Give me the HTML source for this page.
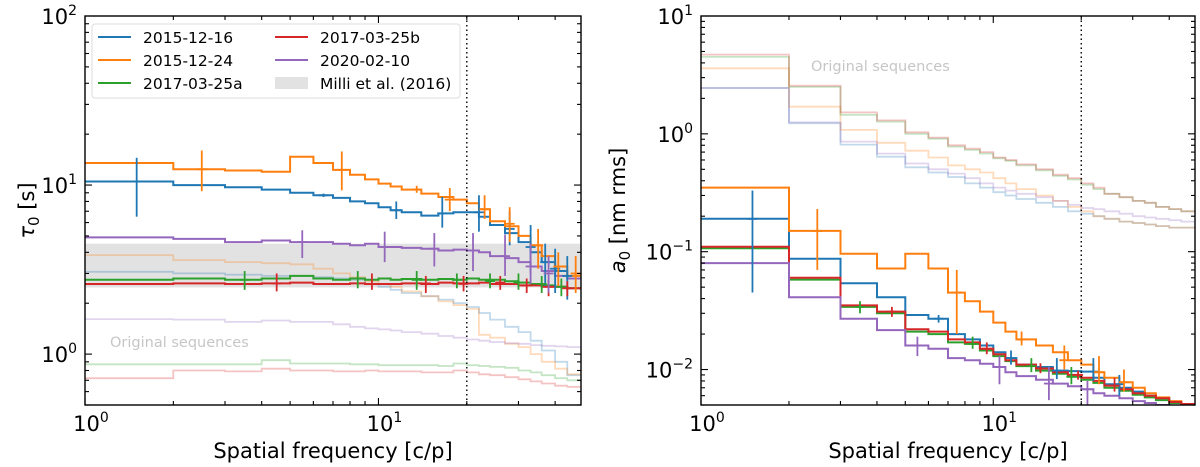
<!DOCTYPE html>
<html><head><meta charset="utf-8">
<style>
html,body{margin:0;padding:0;background:#fff;}
svg{display:block;font-family:"DejaVu Sans","Liberation Sans",sans-serif;}
</style></head>
<body>
<svg id="fig" width="1200" height="467" viewBox="0 0 1200 467" xmlns="http://www.w3.org/2000/svg"></svg>
<script>
// shared bin edges (spatial frequency, c/p)
const edges = [1,2,3,4,5,6,7,8,9,10,11,12,14,16,18,20,22,24,27,30,33,36,40,44,49];
const seriesNames = ["2015-12-16","2015-12-24","2017-03-25a","2017-03-25b","2020-02-10"];
const colors = ["#1f77b4","#ff7f0e","#2ca02c","#d62728","#9467bd"];

// LEFT panel: tau0 [s]
const tauBlue   = [10.5,10.0,9.7,9.4,9.0,8.7,8.4,8.0,7.8,7.4,7.1,6.9,6.6,6.8,6.9,6.9,6.5,5.8,5.2,4.6,4.0,3.5,3.1,2.8];
const tauOrange = [13.5,12.4,12.2,12.0,14.7,13.5,12.3,11.5,10.8,10.2,9.8,9.4,8.9,8.5,8.2,7.8,7.2,6.1,5.7,5.0,4.4,3.8,3.3,2.9];
const tauGreen  = [2.75,2.8,2.75,2.8,2.9,2.8,2.75,2.8,2.75,2.8,2.75,2.78,2.75,2.78,2.75,2.8,2.75,2.75,2.7,2.65,2.6,2.55,2.5,2.45];
const tauRed    = [2.6,2.62,2.6,2.62,2.65,2.6,2.6,2.62,2.6,2.6,2.6,2.62,2.6,2.65,2.62,2.62,2.65,2.6,2.6,2.55,2.55,2.5,2.5,2.45];
const tauPurple = [4.9,4.8,4.6,4.7,4.6,4.6,4.5,4.4,4.5,4.3,4.3,4.25,4.2,4.1,4.15,4.1,4.0,3.8,3.7,3.5,3.3,3.1,2.9,2.8];
const tauOrigBlue   = [3.07,3.0,2.95,2.9,2.9,2.85,2.8,2.75,2.6,2.5,2.4,2.3,2.2,2.1,2.0,1.9,1.75,1.6,1.45,1.35,1.2,1.05,0.9,0.75];
const tauOrigOrange = [3.85,3.6,3.5,3.45,3.4,3.2,3.0,2.85,2.7,2.6,2.5,2.35,2.2,2.05,1.95,1.85,1.3,1.25,1.15,1.1,1.0,0.9,0.82,0.76];
const tauOrigGreen  = [0.87,0.87,0.87,0.92,0.88,0.88,0.88,0.87,0.87,0.86,0.86,0.86,0.86,0.85,0.88,0.86,0.85,0.84,0.83,0.8,0.78,0.75,0.72,0.7];
const tauOrigRed    = [0.72,0.8,0.79,0.82,0.8,0.8,0.79,0.79,0.8,0.79,0.79,0.79,0.78,0.78,0.8,0.78,0.76,0.75,0.73,0.71,0.69,0.67,0.65,0.64];
const tauOrigPurple = [1.61,1.6,1.55,1.58,1.55,1.55,1.5,1.45,1.42,1.4,1.38,1.35,1.32,1.28,1.25,1.22,1.2,1.18,1.16,1.15,1.13,1.12,1.11,1.1];
const milliBand = [2.48,4.5];
// error bars: [x, y, lo, hi]
const tauErrBlue   = [[1.5,10.5,6.5,14.5],[6.5,8.7,8.5,8.9],[11.5,7.1,6.3,8.0],[16.5,6.8,5.6,8.5],[22,6.9,5.3,8.7],[28,5.5,4.4,7.0],[33,4.3,3.0,5.8],[37,3.5,2.5,4.5],[40,3.2,2.3,4.2],[44,2.9,2.1,3.8]];
const tauErrOrange = [[2.5,12.4,9.2,16],[7.5,12.3,9.3,15.8],[13.5,9.4,9.0,9.9],[17.5,8.2,7.0,9.6],[23,7.2,6.3,8.7],[28,5.9,4.6,7.4],[35,4.4,3.2,5.5],[41,3.3,2.5,4.0],[47,3.0,2.3,3.8]];
const tauErrGreen  = [[3.5,2.75,2.4,3.1],[8.5,2.8,2.45,3.1],[13.5,2.75,2.4,3.1],[18.5,2.75,2.45,3.0],[24,2.7,2.45,3.0],[30,2.65,2.4,3.0],[36,2.6,2.3,2.9],[42,2.5,2.2,2.8]];
const tauErrRed    = [[4.5,2.62,2.35,3.0],[9.5,2.6,2.4,3.0],[14.5,2.62,2.3,2.9],[19.5,2.6,2.35,2.9],[26,2.65,2.4,2.9],[32,2.55,2.3,2.8],[38,2.5,2.2,2.75],[44,2.45,2.2,2.7]];
const tauErrPurple = [[5.5,4.6,3.7,5.4],[10.5,4.3,3.5,5.3],[15.5,4.2,3.3,5.2],[21,4.1,3.1,5.2],[27,3.8,2.9,5.1],[33,3.3,2.6,4.5],[38,3.0,2.3,3.8]];

// RIGHT panel: a0 [nm rms]
const aBlue   = [0.19,0.087,0.054,0.041,0.029,0.027,0.02,0.018,0.016,0.014,0.0125,0.011,0.0105,0.0098,0.0097,0.0096,0.0085,0.0075,0.007,0.0065,0.006,0.0057,0.0053,0.005];
const aOrange = [0.35,0.15,0.096,0.072,0.096,0.072,0.045,0.038,0.031,0.025,0.021,0.018,0.016,0.014,0.012,0.011,0.0095,0.0085,0.0078,0.007,0.0063,0.0058,0.0054,0.0051];
const aGreen  = [0.107,0.058,0.034,0.03,0.021,0.02,0.017,0.0165,0.0145,0.013,0.0118,0.0107,0.0098,0.0092,0.0087,0.0082,0.0077,0.007,0.0066,0.0061,0.0058,0.0055,0.0052,0.005];
const aRed    = [0.11,0.06,0.035,0.031,0.022,0.021,0.018,0.017,0.015,0.0135,0.012,0.011,0.0102,0.0095,0.009,0.0085,0.008,0.0073,0.0068,0.0063,0.006,0.0057,0.0053,0.0051];
const aPurple = [0.08,0.041,0.027,0.0216,0.016,0.015,0.0125,0.012,0.0112,0.0105,0.0095,0.0088,0.0082,0.0076,0.0072,0.0068,0.0063,0.006,0.0057,0.0054,0.0052,0.005,0.0048,0.0046];
const aOrigBlue   = [2.45,1.23,0.81,0.64,0.52,0.47,0.43,0.38,0.35,0.32,0.3,0.28,0.26,0.24,0.22,0.21,0.2,0.19,0.18,0.175,0.17,0.165,0.16,0.16];
const aOrigOrange = [3.6,1.7,1.08,0.84,0.72,0.63,0.54,0.5,0.47,0.42,0.38,0.34,0.3,0.27,0.24,0.22,0.2,0.19,0.18,0.175,0.17,0.165,0.16,0.16];
const aOrigGreen  = [4.5,2.5,1.45,1.27,1.0,0.91,0.78,0.73,0.68,0.62,0.59,0.54,0.49,0.44,0.41,0.37,0.34,0.31,0.29,0.27,0.26,0.24,0.23,0.22];
const aOrigRed    = [4.7,2.56,1.52,1.3,1.03,0.93,0.8,0.75,0.7,0.63,0.6,0.55,0.5,0.45,0.42,0.38,0.35,0.31,0.29,0.27,0.26,0.24,0.23,0.22];
const aOrigPurple = [2.45,1.25,0.86,0.68,0.56,0.5,0.46,0.42,0.38,0.35,0.33,0.31,0.29,0.27,0.25,0.235,0.23,0.22,0.21,0.2,0.195,0.19,0.185,0.18];
const aErrBlue   = [[1.5,0.19,0.045,0.33],[6.5,0.027,0.025,0.029],[11.5,0.0125,0.011,0.0145],[16.5,0.0098,0.0083,0.0125],[22,0.0096,0.008,0.0125],[27,0.0075,0.006,0.009]];
const aErrOrange = [[2.5,0.15,0.07,0.23],[7.5,0.045,0.02,0.07],[12.5,0.018,0.016,0.021],[17.5,0.012,0.01,0.016],[23,0.0095,0.0075,0.013],[28,0.0078,0.0065,0.01]];
const aErrGreen  = [[3.5,0.034,0.03,0.038],[8.5,0.0165,0.015,0.019],[13.5,0.0107,0.0095,0.0125],[18.5,0.0087,0.0075,0.0105]];
const aErrRed    = [[4.5,0.031,0.028,0.034],[9.5,0.015,0.0135,0.017],[14.5,0.0102,0.0093,0.0113],[19.5,0.009,0.0082,0.0098],[26,0.0073,0.0065,0.0085]];
const aErrPurple = [[5.5,0.016,0.013,0.019],[10.5,0.0105,0.0075,0.013],[15.5,0.0076,0.0055,0.0105],[21,0.0068,0.005,0.008]];
const yTicksLeft = [0,1,2];
const yTicksRight = [-2,-1,0,1];
const xTicks = [0,1];
const dividerFreq = 20;

const NS = "http://www.w3.org/2000/svg";
const fig = document.getElementById("fig");
function mk(tag, attrs, parent){ const e=document.createElementNS(NS,tag); for(const k in attrs) e.setAttribute(k,attrs[k]); (parent||fig).appendChild(e); return e; }

function panel(opt){
  const L=opt.left, R=opt.right, T=16, B=405;
  const lx0=0, lx1=Math.log10(49);
  const sx = v => L + (Math.log10(v)-lx0)/(lx1-lx0)*(R-L);
  const sy = v => B - (Math.log10(v)-opt.ymin)/(opt.ymax-opt.ymin)*(B-T);
  const g = mk("g",{});
  
  
  const cid = "clip"+opt.name;
  const cp = mk("clipPath",{id:cid},g); mk("rect",{x:L,y:T,width:R-L,height:B-T},cp);
  const plot = mk("g",{"clip-path":"url(#"+cid+")"},g);
  if(opt.band){
    const b = mk("rect",{x:L,y:sy(opt.band[1]),width:R-L,height:sy(opt.band[0])-sy(opt.band[1]),fill:"#e2e2e2"},plot);
    
    
  }
  function step(vals,color,alpha,name,w){
    let d="";
    for(let i=0;i<vals.length;i++){
      const x0=sx(edges[i]), x1=sx(edges[i+1]), y=sy(vals[i]);
      d += (i===0?"M":"L")+x0.toFixed(1)+","+y.toFixed(1)+"L"+x1.toFixed(1)+","+y.toFixed(1);
    }
    const p = mk("path",{d:d,fill:"none",stroke:color,"stroke-width":w,"stroke-opacity":alpha},plot);
    
    
  }
  function errs(arr,color,name){
    arr.forEach(e=>{
      const x=sx(e[0]);
      const l = mk("line",{x1:x,x2:x,y1:sy(e[2]),y2:sy(e[3]),stroke:color,"stroke-width":1.8},plot);
      
      
      const h = mk("line",{x1:x-5,x2:x+5,y1:sy(e[1]),y2:sy(e[1]),stroke:color,"stroke-width":1.8},plot);
      
      
    });
  }
  opt.orig.forEach((s,i)=>step(s,colors[i],0.28,"original-"+seriesNames[i],1.8));
  opt.main.forEach((s,i)=>step(s,colors[i],1,"series-"+seriesNames[i],2));
  opt.err.forEach((s,i)=>errs(s,colors[i],"errorbar-"+seriesNames[i]));
  const dv = mk("line",{x1:sx(dividerFreq),x2:sx(dividerFreq),y1:T,y2:B,stroke:"#000","stroke-width":1.4,"stroke-dasharray":"1.5,3"},g);
  
  
  // ticks
  const tk = mk("g",{stroke:"#000","stroke-width":1.1},g);
  for(let d=Math.floor(opt.ymin); d<opt.ymax; d++){
    for(let m=1;m<10;m++){
      const v=m*Math.pow(10,d); const lv=Math.log10(v);
      if(lv<opt.ymin-1e-9||lv>opt.ymax+1e-9) continue;
      const len = m===1?7:4; const y=sy(v);
      mk("line",{x1:L,x2:L+len,y1:y,y2:y},tk); mk("line",{x1:R,x2:R-len,y1:y,y2:y},tk);
    }
  }
  for(let d=0; d<2; d++){
    for(let m=1;m<10;m++){
      const v=m*Math.pow(10,d); if(v>49) continue;
      const len = m===1?7:4; const x=sx(v);
      mk("line",{x1:x,x2:x,y1:B,y2:B-len},tk); mk("line",{x1:x,x2:x,y1:T,y2:T+len},tk);
    }
  }
  const frame = mk("rect",{x:L,y:T,width:R-L,height:B-T,fill:"none",stroke:"#000","stroke-width":1.4},g);
  
  
  opt.yTicks.forEach(d=>{
    const t = mk("text",{x:L-8,y:sy(Math.pow(10,d))+8,"text-anchor":"end","font-size":21},g);
    
    
    t.innerHTML = '10<tspan dy="-9" font-size="14">'+(d<0?'\u2212'+(-d):d)+'</tspan>';
  });
  xTicks.forEach(d=>{
    const t = mk("text",{x:sx(Math.pow(10,d))+6,y:B+26,"text-anchor":"middle","font-size":21},g);
    
    
    t.innerHTML = '10<tspan dy="-9" font-size="14">'+d+'</tspan>';
  });
  const xl = mk("text",{x:(L+R)/2,y:458,"text-anchor":"middle","font-size":21},g);
  xl.textContent = "Spatial frequency [c/p]";
  
  
  const yl = mk("text",{x:0,y:0,"text-anchor":"middle","font-size":21,transform:"translate("+opt.ylx+","+((T+B)/2)+") rotate(-90)"},g);
  yl.innerHTML = opt.ylabel;
  
  
  const os = mk("text",{x:opt.origX,y:opt.origY,"font-size":14.5,fill:"#c6c6c6"},g);
  os.textContent = "Original sequences";
  
  
  return {sx,sy,g};
}

panel({name:"tau0-panel",left:85,right:581,ymin:Math.log10(0.5),ymax:2,yTicks:yTicksLeft,
  main:[tauBlue,tauOrange,tauGreen,tauRed,tauPurple],
  orig:[tauOrigBlue,tauOrigOrange,tauOrigGreen,tauOrigRed,tauOrigPurple],
  err:[tauErrBlue,tauErrOrange,tauErrGreen,tauErrRed,tauErrPurple],
  band:milliBand, ylx:34, ylabel:'<tspan font-style="italic">τ</tspan><tspan dy="5" font-size="15">0</tspan><tspan dy="-5"> [s]</tspan>',
  origX:110, origY:347});
panel({name:"a0-panel",left:701,right:1195,ymin:Math.log10(0.005),ymax:1,yTicks:yTicksRight,
  main:[aBlue,aOrange,aGreen,aRed,aPurple],
  orig:[aOrigBlue,aOrigOrange,aOrigGreen,aOrigRed,aOrigPurple],
  err:[aErrBlue,aErrOrange,aErrGreen,aErrRed,aErrPurple],
  band:null, ylx:625, ylabel:'<tspan font-style="italic">a</tspan><tspan dy="5" font-size="15">0</tspan><tspan dy="-5"> [nm rms]</tspan>',
  origX:811, origY:71});

// legend
const lg = mk("g",{});


mk("rect",{x:92,y:24,width:368,height:74,rx:3,fill:"#fff","fill-opacity":0.85,stroke:"#ddd","stroke-width":1},lg);
const legOrder = [[0,0],[1,1],[2,2],[3,0],[4,1]];
legOrder.forEach((p,i)=>{
  const col = i<3?0:1; const row = p[1];
  const x = col===0?98:275; const y = 37+row*23;
  const e = mk("g",{},lg);
  
  
  mk("line",{x1:x,x2:x+33,y1:y,y2:y,stroke:colors[p[0]],"stroke-width":2},e);
  const t = mk("text",{x:x+45,y:y+6,"font-size":15.5},e); t.textContent = seriesNames[p[0]];
});
const be = mk("g",{},lg);


mk("rect",{x:275,y:77,width:33,height:12,fill:"#e2e2e2"},be);
const bt = mk("text",{x:320,y:89,"font-size":15.5},be); bt.textContent = "Milli et al. (2016)";
</script>
</body></html>
